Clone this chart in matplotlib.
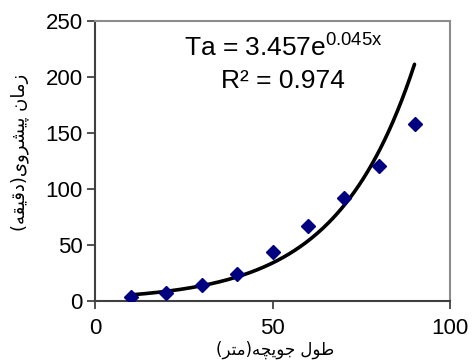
import numpy as np
import matplotlib
matplotlib.use("Agg")
import matplotlib.pyplot as plt

# ---- data ----
furrow_length = [10, 20, 30, 40, 50, 60, 70, 80, 90]          # m
advance_time = [3.8, 7.4, 14.3, 24.4, 44, 67, 92, 120.5, 158]  # min
fit_a = 3.457
fit_b = 0.0457
fit_x_range = [10, 90]
x_ticks = [0, 50, 100]
y_ticks = [0, 50, 100, 150, 200, 250]
eq_text = r"Ta = 3.457e$^{\mathregular{0.045x}}$"
r2_text = "R² = 0.974"

# Persian labels (logical text), displayed through Arabic presentation forms
xlabel_logical = "طول جویچه(متر)"
ylabel_logical = "زمان پیشروی(دقیقه)"
# visual (shaped, left-to-right) forms
xlabel_visual = ("(" + "\uFEAE\uFE98\uFEE3" + ")" +
                 "\uFEEA\uFB7D\uFBFE\uFEEE\uFE9F" + " " +
                 "\uFEDD\uFEEE\uFEC3")
ylabel_visual = ("(" + "\uFEEA\uFED8\uFBFF\uFED7\uFEA9" + ")" +
                 "\uFBFC\uFEED\uFEAE\uFEB8\uFBFF\uFB58" + " " +
                 "\uFEE5\uFE8E\uFEE3\uFEAF")

plt.rcParams['font.family'] = ['Liberation Sans', 'DejaVu Sans']
plt.rcParams['mathtext.fontset'] = 'custom'
plt.rcParams['mathtext.rm'] = 'Liberation Sans'
plt.rcParams['mathtext.it'] = 'Liberation Sans:italic'

fig = plt.figure(figsize=(4.73, 3.60), dpi=100)
ax = fig.add_axes([95/473, 59/360, 355/473, 280/360])

xs = np.linspace(fit_x_range[0], fit_x_range[1], 200)
ax.plot(xs, fit_a*np.exp(fit_b*xs), color='black', lw=2.6, zorder=2,
        solid_capstyle='round')
ax.plot(furrow_length, advance_time, linestyle='none', marker='D',
        markersize=7, color='#000080', zorder=3)

ax.set_xlim(0, 100)
ax.set_ylim(0, 250)
ax.set_xticks(x_ticks)
ax.set_yticks(y_ticks)
ax.tick_params(axis='both', direction='out', length=6, width=1.2,
               colors='#333333', labelsize=16, labelcolor='black')
ax.tick_params(axis='x', pad=6)
ax.tick_params(axis='y', pad=3)
for s in ['left', 'bottom']:
    ax.spines[s].set_color('#404040')
    ax.spines[s].set_linewidth(1.5)
for s in ['top', 'right']:
    ax.spines[s].set_color('#8c8c8c')
    ax.spines[s].set_linewidth(1.5)

ax.text(53, 218, eq_text, ha='center', va='baseline', fontsize=19)
ax.text(53, 190, r2_text, ha='center', va='baseline', fontsize=19)

fig.text(275/473, 1-350/360, xlabel_visual, ha='center', va='center',
         fontsize=12, family=['DejaVu Sans'])
fig.text(20/473, 1-152/360, ylabel_visual, ha='center', va='center',
         rotation=90, fontsize=13, family=['DejaVu Sans'])

fig.savefig("out.png", dpi=100)
